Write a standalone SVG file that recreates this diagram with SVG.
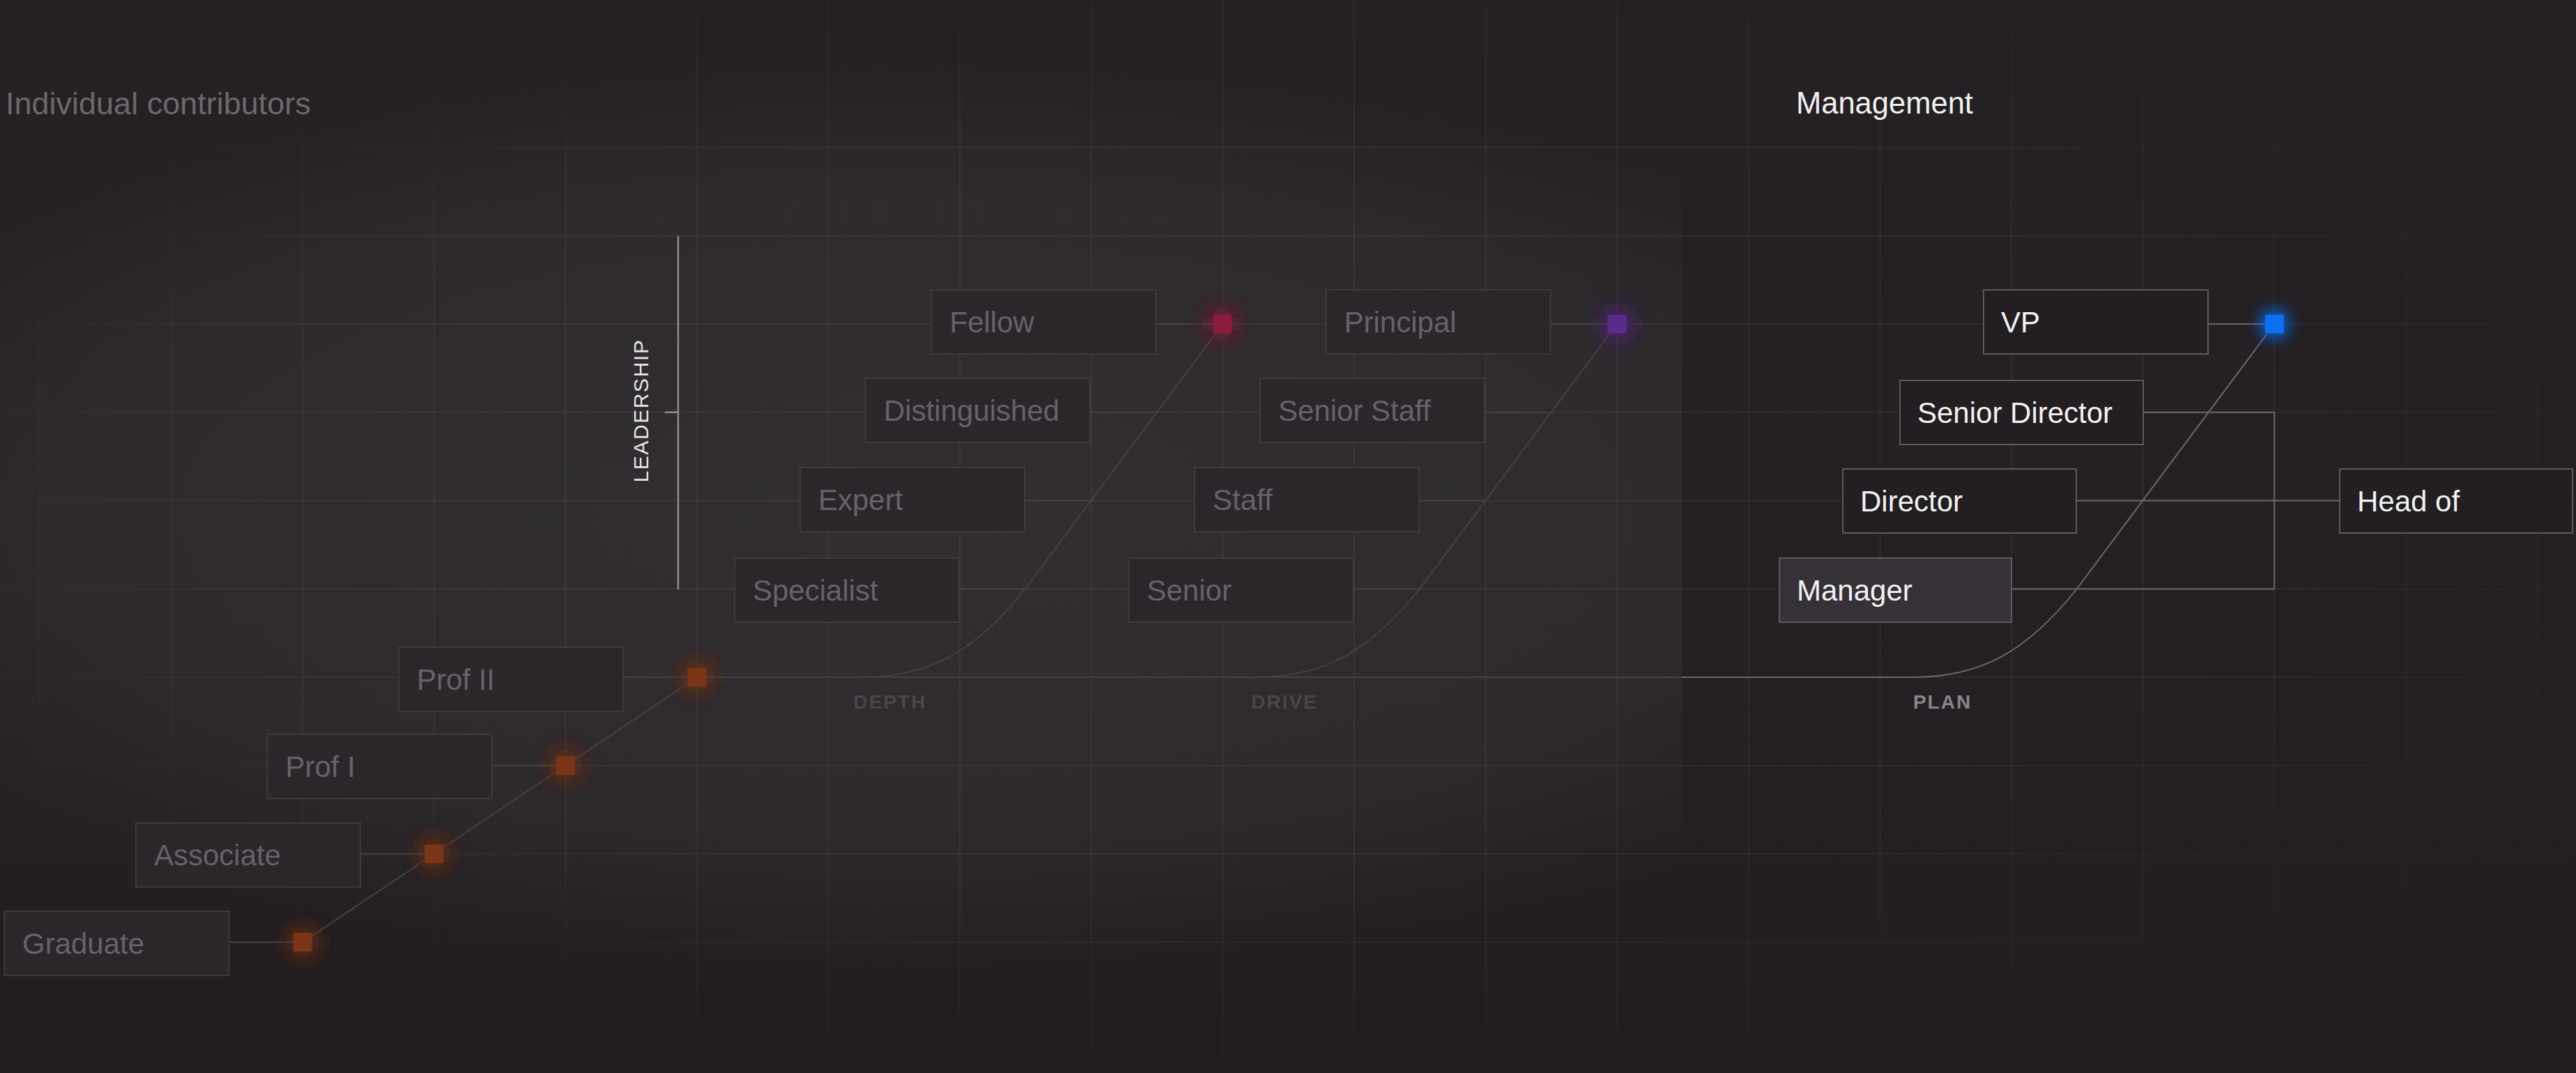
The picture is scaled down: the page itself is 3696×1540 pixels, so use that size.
<svg xmlns="http://www.w3.org/2000/svg" width="3696" height="1540" viewBox="0 0 3696 1540">
<defs>
<style>
.grid line{stroke:#ffffff;stroke-opacity:0.05;stroke-width:2}
.c-ic{fill:none;stroke:#464146;stroke-width:2}
.c-mg{fill:none;stroke:#6b666b;stroke-width:2}
.box-ic{fill:#2a262a;stroke:#3e393d;stroke-width:2}
.box-mg{fill:#221e22;stroke:#5e595e;stroke-width:2}
.box-hl{fill:#363137;stroke:#5e595e;stroke-width:2}
.t{font-family:'Liberation Sans',Arial,sans-serif;font-size:42px}
.t-ic{fill:#67616a}
.t-mg{fill:#f2f2f2}
.head{font-family:'Liberation Sans',Arial,sans-serif}
.lbl{font-family:'Liberation Sans',Arial,sans-serif;font-size:28px;font-weight:bold;letter-spacing:2px;text-anchor:middle}
</style>
<radialGradient id="panelGlow" gradientUnits="userSpaceOnUse" cx="0" cy="0" r="1" gradientTransform="translate(1300 740) scale(1750 660)">
<stop offset="0" stop-color="#ffffff" stop-opacity="0.065"/>
<stop offset="0.7" stop-color="#ffffff" stop-opacity="0.045"/>
<stop offset="1" stop-color="#ffffff" stop-opacity="0"/>
</radialGradient>
<linearGradient id="bgGrad" x1="0" y1="0" x2="0" y2="1">
<stop offset="0" stop-color="#242023"/>
<stop offset="0.75" stop-color="#231f22"/>
<stop offset="1" stop-color="#211d20"/>
</linearGradient>
<radialGradient id="gridFade" cx="0.5" cy="0.48" r="0.6">
<stop offset="0" stop-color="#ffffff"/>
<stop offset="0.6" stop-color="#ffffff"/>
<stop offset="1" stop-color="#000000"/>
</radialGradient>
<mask id="gridMask" maskUnits="userSpaceOnUse" x="0" y="0" width="3696" height="1540">
<rect x="0" y="0" width="3696" height="1540" fill="url(#gridFade)"/>
</mask>
<filter id="glowSoft" x="-400%" y="-400%" width="900%" height="900%">
<feGaussianBlur in="SourceGraphic" stdDeviation="17" result="b"/>
<feMerge><feMergeNode in="b"/><feMergeNode in="b"/><feMergeNode in="SourceGraphic"/></feMerge>
</filter>
<filter id="glowBright" x="-400%" y="-400%" width="900%" height="900%">
<feGaussianBlur in="SourceGraphic" stdDeviation="13" result="b"/>
<feMerge><feMergeNode in="b"/><feMergeNode in="b"/><feMergeNode in="SourceGraphic"/></feMerge>
</filter>
</defs>

<rect x="0" y="0" width="3696" height="1540" fill="url(#bgGrad)"/>
<rect id="ic-panel" x="0" y="0" width="2413" height="1540" fill="url(#panelGlow)"/>

<g class="grid" mask="url(#gridMask)">
<line x1="57" y1="0" x2="57" y2="1540"/>
<line x1="245.6" y1="0" x2="245.6" y2="1540"/>
<line x1="434.2" y1="0" x2="434.2" y2="1540"/>
<line x1="622.8" y1="0" x2="622.8" y2="1540"/>
<line x1="811.4" y1="0" x2="811.4" y2="1540"/>
<line x1="1000" y1="0" x2="1000" y2="1540"/>
<line x1="1188.6" y1="0" x2="1188.6" y2="1540"/>
<line x1="1377.2" y1="0" x2="1377.2" y2="1540"/>
<line x1="1565.8" y1="0" x2="1565.8" y2="1540"/>
<line x1="1754.4" y1="0" x2="1754.4" y2="1540"/>
<line x1="1943" y1="0" x2="1943" y2="1540"/>
<line x1="2131.6" y1="0" x2="2131.6" y2="1540"/>
<line x1="2320.2" y1="0" x2="2320.2" y2="1540"/>
<line x1="2508.8" y1="0" x2="2508.8" y2="1540"/>
<line x1="2697.4" y1="0" x2="2697.4" y2="1540"/>
<line x1="2886" y1="0" x2="2886" y2="1540"/>
<line x1="3074.6" y1="0" x2="3074.6" y2="1540"/>
<line x1="3263.2" y1="0" x2="3263.2" y2="1540"/>
<line x1="3451.8" y1="0" x2="3451.8" y2="1540"/>
<line x1="3640.4" y1="0" x2="3640.4" y2="1540"/>
<line x1="0" y1="211.5" x2="3696" y2="211.5"/>
<line x1="0" y1="338.25" x2="3696" y2="338.25"/>
<line x1="0" y1="465" x2="3696" y2="465"/>
<line x1="0" y1="591.75" x2="3696" y2="591.75"/>
<line x1="0" y1="718.5" x2="3696" y2="718.5"/>
<line x1="0" y1="845.25" x2="3696" y2="845.25"/>
<line x1="0" y1="972" x2="3696" y2="972"/>
<line x1="0" y1="1098.75" x2="3696" y2="1098.75"/>
<line x1="0" y1="1225.5" x2="3696" y2="1225.5"/>
<line x1="0" y1="1352.25" x2="3696" y2="1352.25"/>
</g>

<g id="headings">
<text class="head" x="8" y="164" font-size="45" fill="#6d676c">Individual contributors</text>
<text class="head" x="2577" y="163" font-size="43.5" fill="#f2f0f2">Management</text>
</g>

<g id="leadership">
<line x1="973" y1="339" x2="973" y2="846" stroke="#8f8b8f" stroke-width="2.5"/>
<line x1="954" y1="591.75" x2="973" y2="591.75" stroke="#8f8b8f" stroke-width="2.5"/>
<text transform="translate(930 589.5) rotate(-90)" font-family="'Liberation Sans',Arial,sans-serif" font-size="30" letter-spacing="1.6" text-anchor="middle" fill="#e6e4e6">LEADERSHIP</text>
</g>

<g id="connectors">
<line class="c-ic" x1="328.5" y1="1352.25" x2="434.2" y2="1352.25"/>
<line class="c-ic" x1="517" y1="1225.5" x2="622.8" y2="1225.5"/>
<line class="c-ic" x1="705.5" y1="1098.75" x2="811.4" y2="1098.75"/>
<line class="c-ic" x1="894" y1="972" x2="1000" y2="972"/>
<line class="c-ic" x1="434.2" y1="1352.25" x2="1000" y2="972"/>
<line class="c-ic" x1="1000" y1="972" x2="2413" y2="972"/>
<path class="c-ic" d="M 1235 972 C 1335 972 1400 934 1471 845.25 L 1754.4 465"/>
<line class="c-ic" x1="1658.5" y1="465" x2="1754.4" y2="465"/>
<line class="c-ic" x1="1564" y1="591.75" x2="1660" y2="591.75"/>
<line class="c-ic" x1="1470" y1="718.5" x2="1565.5" y2="718.5"/>
<line class="c-ic" x1="1376" y1="845.25" x2="1471" y2="845.25"/>
<path class="c-ic" d="M 1800.8 972 C 1900.8 972 1965.8 934 2036.8 845.25 L 2320.2 465"/>
<line class="c-ic" x1="2224.5" y1="465" x2="2320.2" y2="465"/>
<line class="c-ic" x1="2130" y1="591.75" x2="2225.8" y2="591.75"/>
<line class="c-ic" x1="2036" y1="718.5" x2="2131.3" y2="718.5"/>
<line class="c-ic" x1="1941.5" y1="845.25" x2="2036.8" y2="845.25"/>
<line class="c-mg" x1="2413" y1="972" x2="2743.8" y2="972"/>
<path class="c-mg" d="M 2743.8 972 C 2843.8 972 2908.8 934 2979.8 845.25 L 3263.2 465"/>
<line class="c-mg" x1="3168" y1="465" x2="3263.2" y2="465"/>
<polyline class="c-mg" points="3075,591.75 3263.2,591.75 3263.2,845.25 2886,845.25"/>
<line class="c-mg" x1="2979" y1="718.5" x2="3357" y2="718.5"/>
</g>

<g id="node-graduate"><rect class="box-ic" x="6.5" y="1308" width="322" height="92"/><text class="t t-ic" x="32" y="1369">Graduate</text></g>
<g id="node-associate"><rect class="box-ic" x="195" y="1181" width="322" height="92"/><text class="t t-ic" x="221" y="1242">Associate</text></g>
<g id="node-prof-i"><rect class="box-ic" x="383.5" y="1054" width="322" height="92"/><text class="t t-ic" x="409.5" y="1115">Prof I</text></g>
<g id="node-prof-ii"><rect class="box-ic" x="572" y="929" width="322" height="92"/><text class="t t-ic" x="598" y="990">Prof II</text></g>

<g id="node-specialist"><rect class="box-ic" x="1054" y="801" width="322" height="92"/><text class="t t-ic" x="1080" y="862">Specialist</text></g>
<g id="node-expert"><rect class="box-ic" x="1148" y="671" width="322" height="92"/><text class="t t-ic" x="1174" y="732">Expert</text></g>
<g id="node-distinguished"><rect class="box-ic" x="1242" y="543" width="322" height="92"/><text class="t t-ic" x="1268" y="604">Distinguished</text></g>
<g id="node-fellow"><rect class="box-ic" x="1336.5" y="416" width="322" height="92"/><text class="t t-ic" x="1362.5" y="477">Fellow</text></g>

<g id="node-senior"><rect class="box-ic" x="1619.5" y="801" width="322" height="92"/><text class="t t-ic" x="1645.5" y="862">Senior</text></g>
<g id="node-staff"><rect class="box-ic" x="1714" y="671" width="322" height="92"/><text class="t t-ic" x="1740" y="732">Staff</text></g>
<g id="node-senior-staff"><rect class="box-ic" x="1808" y="543" width="322" height="92"/><text class="t t-ic" x="1834" y="604">Senior Staff</text></g>
<g id="node-principal"><rect class="box-ic" x="1902.5" y="416" width="322" height="92"/><text class="t t-ic" x="1928.5" y="477">Principal</text></g>

<g id="node-manager"><rect class="box-hl" x="2553" y="801" width="333" height="92"/><text class="t t-mg" x="2578" y="862">Manager</text></g>
<g id="node-director"><rect class="box-mg" x="2644" y="673" width="335" height="92"/><text class="t t-mg" x="2669" y="734">Director</text></g>
<g id="node-senior-director"><rect class="box-mg" x="2726" y="546" width="349" height="92"/><text class="t t-mg" x="2751" y="607">Senior Director</text></g>
<g id="node-vp"><rect class="box-mg" x="2846" y="416" width="322" height="92"/><text class="t t-mg" x="2871" y="477">VP</text></g>
<g id="node-head-of"><rect class="box-mg" x="3357" y="673" width="334" height="92"/><text class="t t-mg" x="3382" y="734">Head of</text></g>

<g id="dots">
<rect x="420.7" y="1338.75" width="27" height="27" rx="3" fill="#7a3417" filter="url(#glowSoft)"/>
<rect x="609.3" y="1212" width="27" height="27" rx="3" fill="#7a3417" filter="url(#glowSoft)"/>
<rect x="797.9" y="1085.25" width="27" height="27" rx="3" fill="#7a3417" filter="url(#glowSoft)"/>
<rect x="986.5" y="958.5" width="27" height="27" rx="3" fill="#7a3417" filter="url(#glowSoft)"/>
<rect x="1740.9" y="451.5" width="27" height="27" rx="3" fill="#8a1c3d" filter="url(#glowSoft)"/>
<rect x="2306.7" y="451.5" width="27" height="27" rx="3" fill="#5a2a8c" filter="url(#glowSoft)"/>
<rect x="3249.7" y="451.5" width="27" height="27" rx="3" fill="#0b6ff2" filter="url(#glowBright)"/>
</g>

<g id="axis-labels">
<text class="lbl" x="1277" y="1017" fill="#4a454a">DEPTH</text>
<text class="lbl" x="1843" y="1017" fill="#4a454a">DRIVE</text>
<text class="lbl" x="2787" y="1017" fill="#8a858a">PLAN</text>
</g>
</svg>
